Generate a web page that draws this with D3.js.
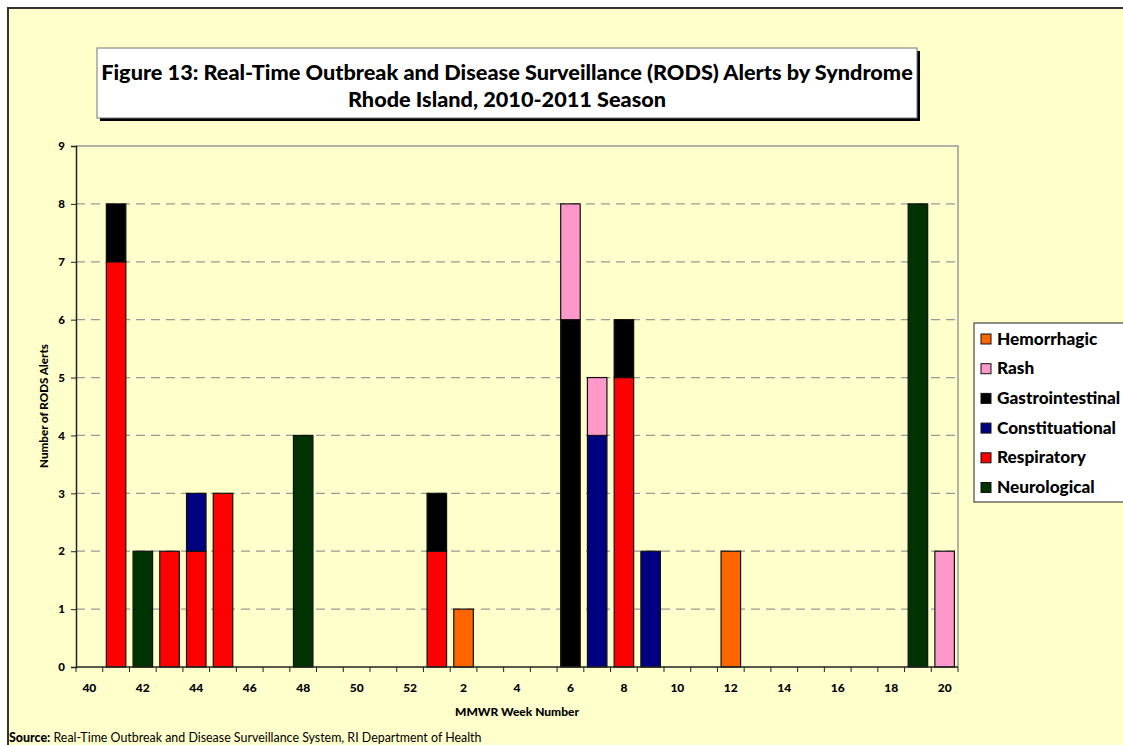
<!DOCTYPE html>
<html><head><meta charset="utf-8">
<script src="https://cdn.jsdelivr.net/npm/d3@7"></script>
<style>
html,body{margin:0;padding:0;background:#fff;}
svg{display:block;font-family:Lato,"Open Sans",sans-serif;}
</style></head>
<body>
<svg id="chart" width="1123" height="745"></svg>
<script>
// ---- data ----
const weeks = [40,41,42,43,44,45,46,47,48,49,50,51,52,1,2,3,4,5,6,7,8,9,10,11,12,13,14,15,16,17,18,19,20];
const tickLabels = [40,42,44,46,48,50,52,2,4,6,8,10,12,14,16,18,20];
const syndromes = ["Neurological","Respiratory","Constituational","Gastrointestinal","Rash","Hemorrhagic"];
const colors = ["#003300","#FF0000","#000080","#000000","#FF99CC","#FF6600"];
// values per week (same order as weeks)
const neurological    = [0,0,2,0,0,0,0,0,4,0,0,0,0,0,0,0,0,0,0,0,0,0,0,0,0,0,0,0,0,0,0,8,0];
const respiratory     = [0,7,0,2,2,3,0,0,0,0,0,0,0,2,0,0,0,0,0,0,5,0,0,0,0,0,0,0,0,0,0,0,0];
const constitutional  = [0,0,0,0,1,0,0,0,0,0,0,0,0,0,0,0,0,0,0,4,0,2,0,0,0,0,0,0,0,0,0,0,0];
const gastro          = [0,1,0,0,0,0,0,0,0,0,0,0,0,1,0,0,0,0,6,0,1,0,0,0,0,0,0,0,0,0,0,0,0];
const rash            = [0,0,0,0,0,0,0,0,0,0,0,0,0,0,0,0,0,0,2,1,0,0,0,0,0,0,0,0,0,0,0,0,2];
const hemorrhagic     = [0,0,0,0,0,0,0,0,0,0,0,0,0,0,1,0,0,0,0,0,0,0,0,0,2,0,0,0,0,0,0,0,0];
const yTicks = [0,1,2,3,4,5,6,7,8,9];

const seriesVals = [neurological,respiratory,constitutional,gastro,rash,hemorrhagic];
const rows = weeks.map((w,i)=>{
  const r = {idx:i, week:w};
  syndromes.forEach((s,j)=>r[s]=seriesVals[j][i]);
  return r;
});

const BOLD = 900;
function fit(sel, base, target){
  const w = sel.node().getComputedTextLength();
  const fs = w>0 ? base*target/w : base;
  sel.attr("font-size",fs);
  return fs;
}

const svg = d3.select("#chart");
// background & outer frame
svg.append("rect").attr("x",8).attr("y",8).attr("width",1130).attr("height",760)
  .attr("fill","#FFFFCC").attr("stroke","#333").attr("stroke-width",2);

const L=76, T=146, R=958, B=667;
const x = d3.scaleBand().domain(d3.range(weeks.length)).range([L,R]).paddingInner(0.27).paddingOuter(0.135);
const xb = d3.scaleBand().domain(d3.range(weeks.length)).range([L,R]);
const y = d3.scaleLinear().domain([0,9]).range([B,T]);

// gridlines
svg.append("g").selectAll("line").data(yTicks.filter(t=>t>0 && t<9)).join("line")
  .attr("x1",L).attr("x2",R).attr("y1",d=>y(d)).attr("y2",d=>y(d))
  .attr("stroke","#999").attr("stroke-width",1.3).attr("stroke-dasharray","9,6");
// top and right plot border
svg.append("path").attr("d",`M${L},${y(9)}H${R}V${B}`).attr("fill","none").attr("stroke","#999").attr("stroke-width",1.5);

// stacked bars
const stack = d3.stack().keys(syndromes)(rows);
svg.append("g").selectAll("g").data(stack).join("g")
  .attr("fill",(d,i)=>colors[i])
  .selectAll("rect").data(d=>d.filter(p=>p[1]>p[0])).join("rect")
  .attr("x",d=>x(d.data.idx)).attr("width",x.bandwidth())
  .attr("y",d=>y(d[1])).attr("height",d=>y(d[0])-y(d[1]))
  .attr("stroke","#111").attr("stroke-width",1.2);

// y axis
const yAxis = svg.append("g").attr("transform",`translate(${L},0)`)
  .call(d3.axisLeft(y).tickValues(yTicks).tickSize(5).tickPadding(6).tickFormat(d3.format("d")));
yAxis.select(".domain").attr("stroke","#222").attr("stroke-width",1.5);
yAxis.selectAll(".tick line").attr("stroke","#222");
yAxis.selectAll("text").attr("font-size",11.5).attr("font-weight",BOLD).attr("fill","#000")
  .attr("font-family","Lato, sans-serif");

// x axis: ticks at category boundaries
const xg = svg.append("g").attr("transform",`translate(0,${B})`);
xg.append("line").attr("x1",L).attr("x2",R).attr("stroke","#222").attr("stroke-width",1.5);
xg.selectAll("line.tk").data(d3.range(weeks.length+1)).join("line").attr("class","tk")
  .attr("x1",i=>L+i*xb.step()).attr("x2",i=>L+i*xb.step()).attr("y1",0).attr("y2",5)
  .attr("stroke","#222");
xg.selectAll("text").data(weeks.map((w,i)=>({w,i})).filter(d=>tickLabels.includes(d.w) && (d.i%2===0))).join("text")
  .attr("x",d=>xb(d.i)+xb.bandwidth()/2).attr("y",25)
  .attr("text-anchor","middle").attr("font-size",12).attr("font-weight",BOLD).text(d=>d.w);

// axis titles
const xt = svg.append("text").attr("x",517).attr("y",716).attr("text-anchor","middle")
  .attr("font-size",10).attr("font-weight",BOLD).text("MMWR Week Number");
fit(xt,10,124);
const yt = svg.append("text").attr("transform","translate(48,406) rotate(-90)").attr("text-anchor","middle")
  .attr("font-size",10).attr("font-weight",BOLD).text("Number of RODS Alerts");
fit(yt,10,124);

// title box
svg.append("rect").attr("x",100).attr("y",51).attr("width",820).attr("height",70).attr("fill","#000");
svg.append("rect").attr("x",97).attr("y",48).attr("width",820).attr("height",70).attr("fill","#fff")
  .attr("stroke","#777").attr("stroke-width",1);
const t1 = svg.append("text").attr("x",507).attr("y",80).attr("text-anchor","middle")
  .attr("font-size",19).attr("font-weight",BOLD).text("Figure 13: Real-Time Outbreak and Disease Surveillance (RODS) Alerts by Syndrome");
const t2 = svg.append("text").attr("x",507).attr("y",107).attr("text-anchor","middle")
  .attr("font-size",19).attr("font-weight",BOLD).text("Rhode Island, 2010-2011 Season");
const tfs = fit(t1,19,812); t2.attr("font-size",tfs);

// legend
const lg = svg.append("g");
lg.append("rect").attr("x",974).attr("y",323).attr("width",160).attr("height",179)
  .attr("fill","#fff").attr("stroke","#222").attr("stroke-width",1);
const legendItems = syndromes.map((s,i)=>({s,c:colors[i]})).reverse();
const li = lg.selectAll("g.li").data(legendItems).join("g").attr("class","li")
  .attr("transform",(d,i)=>`translate(981,${339+i*29.7})`);
li.append("rect").attr("x",0).attr("y",-5).attr("width",10).attr("height",10)
  .attr("fill",d=>d.c).attr("stroke","#111").attr("stroke-width",1);
const ltx = li.append("text").attr("x",16).attr("y",5.5).attr("font-size",15).attr("font-weight",BOLD).text(d=>d.s);
const cw = ltx.filter(d=>d.s==="Constituational").node().getComputedTextLength();
if (cw>0) ltx.attr("font-size",15*119/cw);

// source
const src = svg.append("text").attr("x",9).attr("y",742).attr("font-size",10);
src.append("tspan").attr("font-weight",BOLD).text("Source:");
src.append("tspan").text(" Real-Time Outbreak and Disease Surveillance System, RI Department of Health");
fit(src,10,473);
</script>
</body></html>
